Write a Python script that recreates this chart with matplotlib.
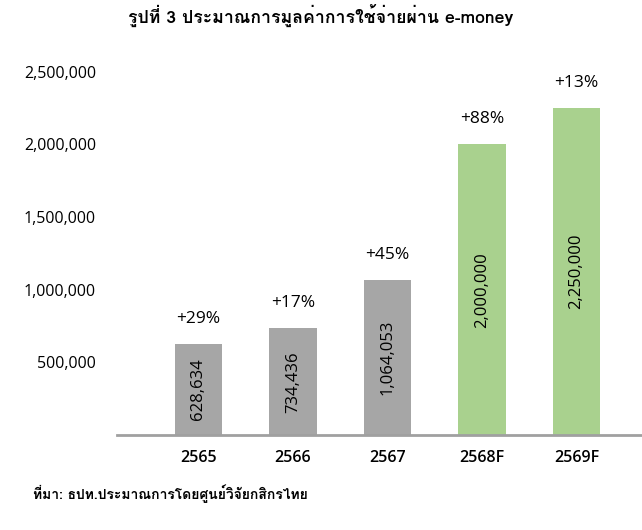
#!/usr/bin/env python3
import matplotlib
matplotlib.use("Agg")
import matplotlib.pyplot as plt
from matplotlib import font_manager
from matplotlib.ft2font import FT2Font

years = ["2565", "2566", "2567", "2568F", "2569F"]
values = [628634, 734436, 1064053, 2000000, 2250000]
growth = ["+29%", "+17%", "+45%", "+88%", "+13%"]
is_forecast = [False, False, False, True, True]
yticks = [500000, 1000000, 1500000, 2000000, 2500000]

TITLE = "รูปที่ 3 ประมาณการมูลค่าการใช้จ่ายผ่าน e-money"
SOURCE = "ที่มา: ธปท.ประมาณการโดยศูนย์วิจัยกสิกรไทย"

GREY = "#a6a6a6"
GREEN = "#a9d18e"


def find_thai_font():
    # first installed family that has a Thai glyph
    for f in font_manager.fontManager.ttflist:
        try:
            if 0x0E23 in FT2Font(f.fname).get_charmap():
                return f.name
        except Exception:
            continue
    return None


thai = find_thai_font()
thai_family = [thai, "DejaVu Sans"] if thai else ["DejaVu Sans"]
num_family = ["Open Sans", "DejaVu Sans"]

fig = plt.figure(figsize=(6.42, 5.30), dpi=100)
ax = fig.add_axes([0.182, 0.179, 0.818, 0.686])

x = list(range(len(years)))
colors = [GREEN if f else GREY for f in is_forecast]
ax.bar(x, values, width=0.5, color=colors, zorder=2)

for xi, v, g in zip(x, values, growth):
    ax.text(xi, v / 2, f"{v:,}", rotation=90, ha="center", va="center",
            fontsize=12, family=num_family, color="black")
    ax.annotate(g, (xi, v), xytext=(0, 18), textcoords="offset points",
                ha="center", va="center", fontsize=12.5, family=num_family,
                annotation_clip=False)

ax.set_xlim(-0.862, 4.693)
ax.set_ylim(0, 2500000)
ax.set_xticks(x)
ax.set_xticklabels(years, family=num_family, fontsize=11.5, fontweight="semibold")
ax.set_yticks(yticks)
ax.set_yticklabels([f"{t:,}" for t in yticks], family=num_family, fontsize=11.5)
ax.tick_params(axis="both", length=0)
ax.tick_params(axis="x", pad=11)
ax.tick_params(axis="y", pad=15)

for side in ["top", "right", "left"]:
    ax.spines[side].set_visible(False)
ax.spines["bottom"].set_color("#a0a0a0")
ax.spines["bottom"].set_linewidth(2)

fig.text(0.499, 0.970, TITLE, ha="center", va="center", fontsize=12.7,
         family=thai_family, fontweight="bold")
fig.text(0.051, 0.068, SOURCE, ha="left", va="center", fontsize=10,
         family=thai_family, fontweight="bold")

fig.savefig("out.png", dpi=100)
plt.close(fig)
